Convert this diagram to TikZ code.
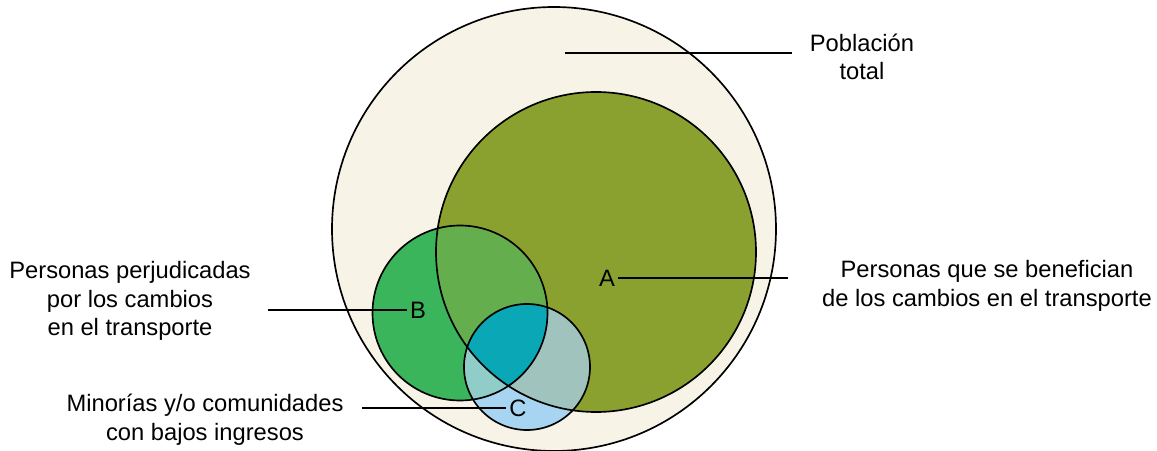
\documentclass[tikz,border=0pt]{standalone}
\usepackage{fontspec}
\setmainfont{Liberation Sans}
\definecolor{popfill}{HTML}{F7F3E6}
\definecolor{afill}{HTML}{8BA12F}
\definecolor{bfill}{HTML}{3BB55B}
\definecolor{abfill}{HTML}{64AE4E}
\definecolor{cfill}{HTML}{A7D5F1}
\definecolor{acfill}{HTML}{A0C3BD}
\definecolor{bcfill}{HTML}{90CDC9}
\definecolor{abcfill}{HTML}{0AA8B6}
\tikzset{
  region/.style={draw=black, line width=0.95pt},
  leader/.style={draw=black, line width=0.7pt},
  caption/.style={align=center, font=\fontsize{13.5}{16.3}\selectfont, inner sep=0pt},
  letter/.style={font=\fontsize{13.5}{16.3}\selectfont, inner sep=1.5pt},
}
\begin{document}
\begin{tikzpicture}[x=0.02cm,y=0.02cm]
  \useasboundingbox (0,0) rectangle (1157,450);

  % centres of the sets
  \coordinate (cP) at (554,221);
  \coordinate (cA) at (596,198);
  \coordinate (cB) at (460,137);
  \coordinate (cC) at (527,83);

  % fills
  \fill[popfill] (cP) circle (222);
  \fill[afill] (cA) circle (160);
  \fill[bfill] (cB) circle (87.5);
  \begin{scope}
    \clip (cA) circle (160);
    \fill[abfill] (cB) circle (87.5);
  \end{scope}
  \fill[cfill] (cC) circle (63);
  \begin{scope}
    \clip (cA) circle (160);
    \fill[acfill] (cC) circle (63);
  \end{scope}
  \begin{scope}
    \clip (cB) circle (87.5);
    \fill[bcfill] (cC) circle (63);
  \end{scope}
  \begin{scope}
    \clip (cA) circle (160);
    \clip (cB) circle (87.5);
    \fill[abcfill] (cC) circle (63);
  \end{scope}

  % outlines
  \draw[region] (cP) circle (222);
  \draw[region] (cA) circle (160);
  \draw[region] (cB) circle (87.5);
  \draw[region] (cC) circle (63);

  % letters and captions
  \node[letter] (lblA) at (607,172) {A};
  \node[letter] (lblB) at (418,140) {B};
  \node[letter] (lblC) at (518,42) {C};

  \node[caption] (txtPop) at (862,393) {Población\\total};
  \node[caption] (txtA) at (987,164) {Personas que se benefician\\de los cambios en el transporte};
  \node[caption] (txtB) at (130,149) {Personas perjudicadas\\por los cambios\\en el transporte};
  \node[caption] (txtC) at (205,30) {Minorías y/o comunidades\\con bajos ingresos};

  % leaders
  \coordinate (startPop) at (565,397);
  \coordinate (endPop) at (792,397);
  \coordinate (endA) at (788,172);
  \coordinate (startB) at (268,140);
  \coordinate (startC) at (362,42);

  \draw[leader] (startPop) -- (endPop);
  \draw[leader] (lblA) -- (endA);
  \draw[leader] (startB) -- (lblB);
  \draw[leader] (startC) -- (lblC);

\end{tikzpicture}
\end{document}
